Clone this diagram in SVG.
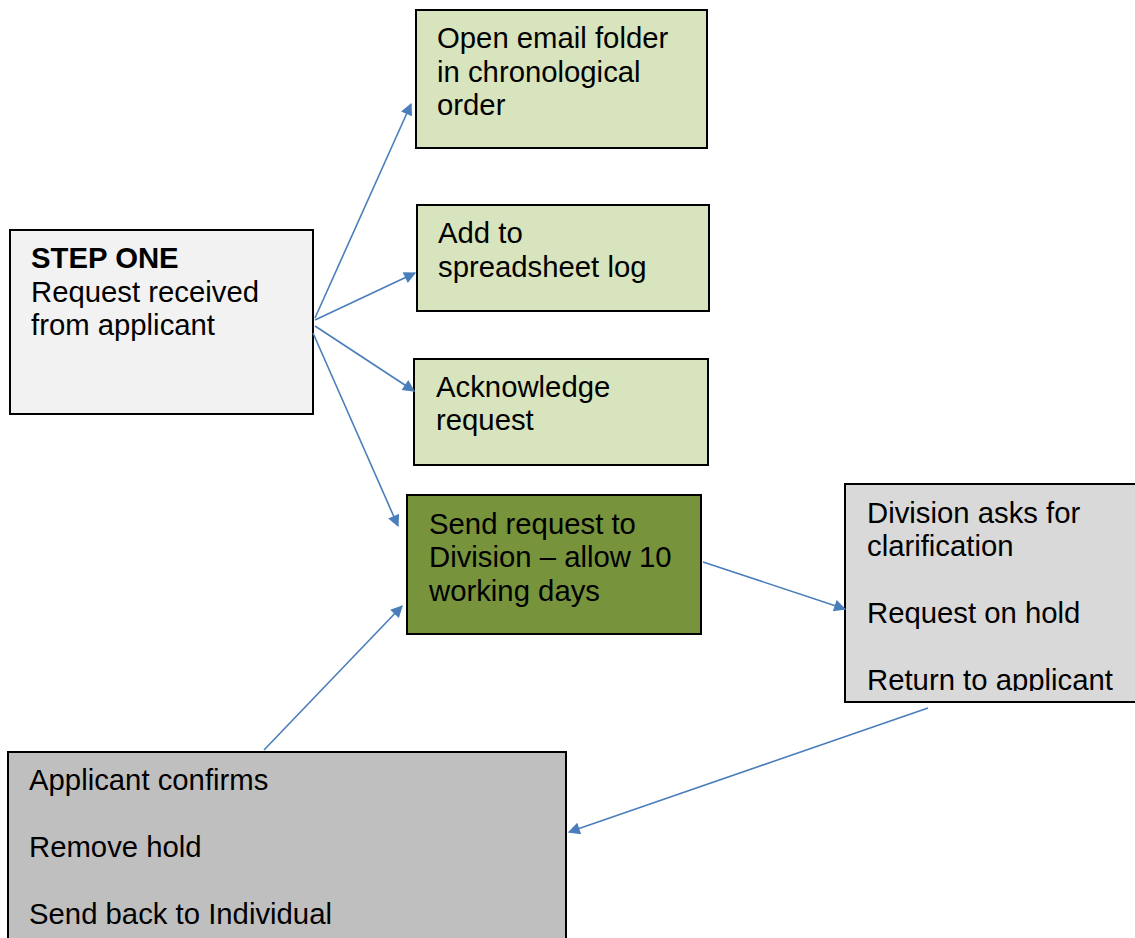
<svg xmlns="http://www.w3.org/2000/svg" width="1135" height="938" viewBox="0 0 1135 938">
<style>
.box{stroke:#000;stroke-width:2}
.t{font-family:"Liberation Sans",Arial,sans-serif;font-size:29.3px;fill:#000}
.b{font-weight:bold}
.c{stroke:#4a7ebb;stroke-width:1.6;fill:none;marker-end:url(#ah)}
</style>
<defs>
<marker id="ah" viewBox="0 0 10 10" refX="9" refY="5" markerWidth="15" markerHeight="12" markerUnits="userSpaceOnUse" orient="auto">
<path d="M0,0 L10,5 L0,10 z" fill="#4a7ebb"/>
</marker>
<clipPath id="clip5"><rect x="845" y="484" width="290" height="207"/></clipPath>
</defs>
<rect width="1135" height="938" fill="#fff"/>
<g id="step-one">
<rect class="box" x="10" y="230" width="303" height="184" fill="#f2f2f2"/>
<text class="t b" x="31" y="268">STEP ONE</text>
<text class="t" x="31" y="302">Request received</text>
<text class="t" x="31" y="335">from applicant</text>
</g>
<g id="open-email">
<rect class="box" x="416" y="10" width="291" height="138" fill="#d7e4bd"/>
<text class="t" x="437" y="48">Open email folder</text>
<text class="t" x="437" y="82">in chronological</text>
<text class="t" x="437" y="115">order</text>
</g>
<g id="add-spreadsheet">
<rect class="box" x="417" y="205" width="292" height="106" fill="#d7e4bd"/>
<text class="t" x="438" y="243">Add to</text>
<text class="t" x="438" y="277">spreadsheet log</text>
</g>
<g id="acknowledge">
<rect class="box" x="414" y="359" width="294" height="106" fill="#d7e4bd"/>
<text class="t" x="436" y="397">Acknowledge</text>
<text class="t" x="436" y="430">request</text>
</g>
<g id="send-division">
<rect class="box" x="407" y="495" width="294" height="139" fill="#77933c"/>
<text class="t" x="429" y="534">Send request to</text>
<text class="t" x="429" y="567">Division – allow 10</text>
<text class="t" x="429" y="601">working days</text>
</g>
<g id="division-asks">
<rect class="box" x="845" y="484" width="295" height="218" fill="#d9d9d9"/>
<g clip-path="url(#clip5)">
<text class="t" x="867" y="523">Division asks for</text>
<text class="t" x="867" y="556">clarification</text>
<text class="t" x="867" y="623">Request on hold</text>
<text class="t" x="867" y="690">Return to applicant</text>
</g>
</g>
<g id="applicant-confirms">
<rect class="box" x="8" y="752" width="558" height="200" fill="#bfbfbf"/>
<text class="t" x="29" y="790">Applicant confirms</text>
<text class="t" x="29" y="857">Remove hold</text>
<text class="t" x="29" y="924">Send back to Individual</text>
</g>
<g id="connectors">
<path class="c" d="M315,318 L411,104"/>
<path class="c" d="M315,320 L415,273"/>
<path class="c" d="M315,326 L414,391"/>
<path class="c" d="M313,333 L398,526"/>
<path class="c" d="M703,562 L845,609"/>
<path class="c" d="M928,708 L569,832"/>
<path class="c" d="M264,750 L402,606"/>
</g>
</svg>
